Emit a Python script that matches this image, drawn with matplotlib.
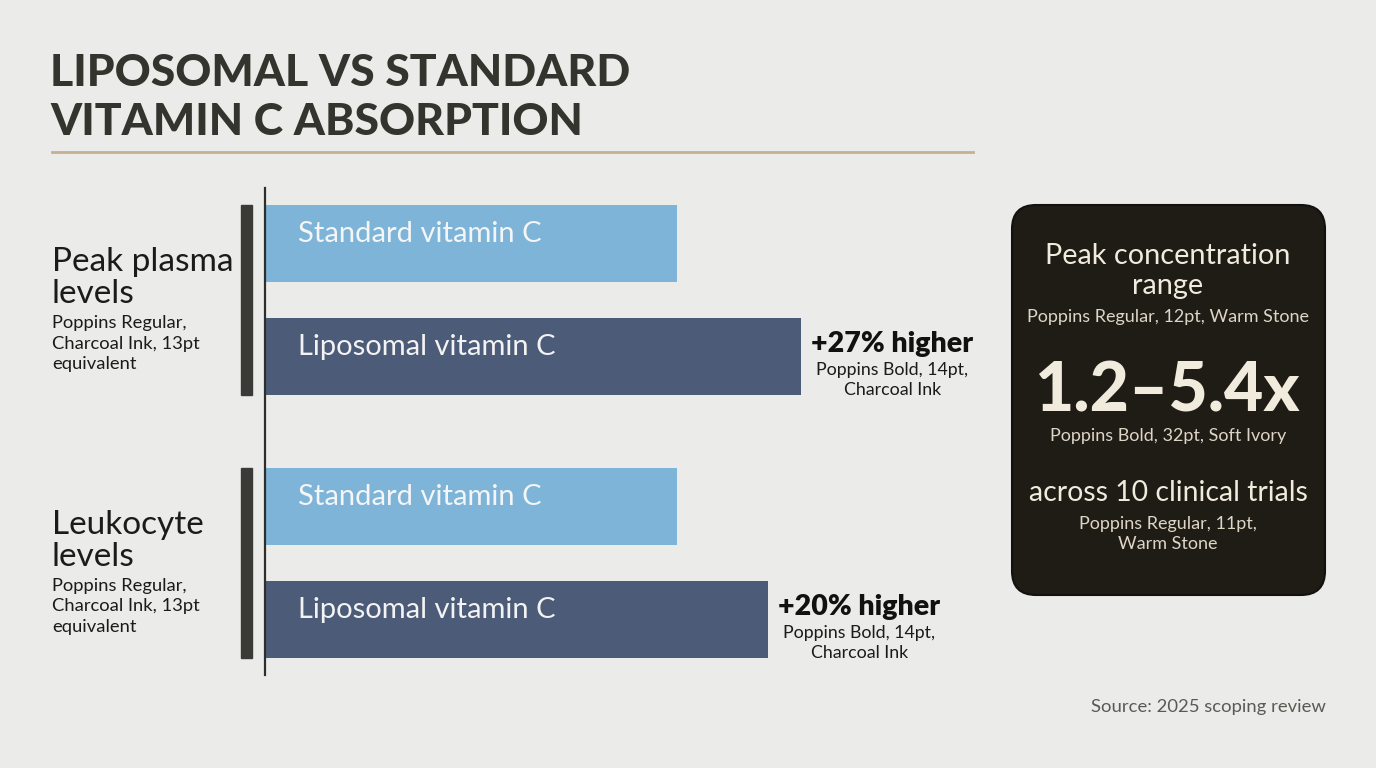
import matplotlib
matplotlib.use("Agg")
import matplotlib.pyplot as plt
from matplotlib.patches import FancyBboxPatch, Rectangle
from matplotlib.lines import Line2D
import matplotlib.transforms as mtransforms

# ---------------- data ----------------
metrics = ["Peak plasma\nlevels", "Leukocyte\nlevels"]
metric_notes = ["Poppins Regular,\nCharcoal Ink, 13pt\nequivalent",
                "Poppins Regular,\nCharcoal Ink, 13pt\nequivalent"]
series_names = ["Standard vitamin C", "Liposomal vitamin C"]
standard_vals = [1.00, 1.00]          # relative absorption (bar length)
liposomal_vals = [1.30, 1.22]
uplift_labels = ["+27% higher", "+20% higher"]
uplift_notes = ["Poppins Bold, 14pt,\nCharcoal Ink", "Poppins Bold, 14pt,\nCharcoal Ink"]
title_lines = ["LIPOSOMAL VS STANDARD", "VITAMIN C ABSORPTION"]
box_head = "Peak concentration\nrange"
box_head_note = "Poppins Regular, 12pt, Warm Stone"
box_value = "1.2\u20135.4x"
box_value_note = "Poppins Bold, 32pt, Soft Ivory"
box_foot = "across 10 clinical trials"
box_foot_note = "Poppins Regular, 11pt,\nWarm Stone"
source = "Source: 2025 scoping review"

# ---------------- style ----------------
BG = "#EBEBE9"
INK = "#1B1B1A"
TITLE = "#34342F"
STD_C = "#7EB4D8"
LIPO_C = "#4C5B78"
BOX_C = "#1F1C16"
IVORY = "#F1EBDD"
STONE = "#DDD5C6"
FONT = ["Lato", "DejaVu Sans"]

W, H = 1376, 768
fig = plt.figure(figsize=(W / 100, H / 100), dpi=100, facecolor=BG)

def fx(x):
    return x / W

def fy(y):
    return 1 - y / H

def ftext(x, y, s, **kw):
    kw.setdefault("family", FONT)
    kw.setdefault("va", "baseline")
    fig.text(fx(x), fy(y), s, **kw)

# Title
ftext(50, 86, title_lines[0], fontsize=32, weight="black", color=TITLE)
ftext(50, 135, title_lines[1], fontsize=32, weight="black", color=TITLE)
fig.add_artist(Line2D([fx(52), fx(973)], [fy(152), fy(152)],
                      transform=fig.transFigure, color="#C6AF92", lw=2))

# Bars axes
ax_left, ax_right, ax_top, ax_bot = 265, 975, 188, 675
ax = fig.add_axes([fx(ax_left), fy(ax_bot), fx(ax_right - ax_left),
                   (ax_bot - ax_top) / H])
ax.set_facecolor("none")
group_pos = list(range(len(metrics)))
offset = 0.215
bar_h = 0.293
std_y = [g - offset for g in group_pos]
lipo_y = [g + offset for g in group_pos]
ax.barh(std_y, standard_vals, height=bar_h, color=STD_C, left=0.003)
ax.barh(lipo_y, liposomal_vals, height=bar_h, color=LIPO_C, left=0.003)
ax.set_xlim(0, (ax_right - ax_left) / 411)
ax.set_ylim(1.426, -0.426)
for s in ["top", "right", "bottom"]:
    ax.spines[s].set_visible(False)
ax.spines["left"].set_color("#2E2E2C")
ax.spines["left"].set_linewidth(1.6)
ax.set_xticks([])
ax.set_yticks([])

# bar text labels
for i in group_pos:
    ax.text(0.08, std_y[i] - 0.006, series_names[0], va="baseline", ha="left",
            fontsize=21, color="#F3F5F6", family=FONT)
    ax.text(0.08, lipo_y[i] - 0.006, series_names[1], va="baseline", ha="left",
            fontsize=21, color="#F3F3F3", family=FONT)

# dark group markers on the left of the axis
blend = mtransforms.blended_transform_factory(fig.transFigure, ax.transData)
for i in group_pos:
    y0 = std_y[i] - bar_h / 2
    y1 = lipo_y[i] + bar_h / 2
    fig.add_artist(Rectangle((fx(241), y0), fx(11), y1 - y0, transform=blend,
                             color="#3A3A36", clip_on=False))

# category labels
for i, g in enumerate(group_pos):
    base = 271 + i * 263
    ftext(52, base, metrics[i].split("\n")[0], fontsize=24, color=INK)
    ftext(52, base + 32, metrics[i].split("\n")[1], fontsize=24, color=INK)
    for k, line in enumerate(metric_notes[i].split("\n")):
        ftext(52, base + 57 + 20.5 * k, line, fontsize=13.2, color=INK)

# uplift annotations
for i in group_pos:
    xd = ax.transData.transform((liposomal_vals[i], lipo_y[i]))
    cx_pix = xd[0] + 93
    ybase_pix = H - xd[1]  # top-origin pixel coordinate of bar center
    fig.text(cx_pix / W, fy(ybase_pix - 5), uplift_labels[i], ha="center",
             va="baseline", fontsize=20.5, weight="heavy", color="#111111",
             family=FONT)
    for k, line in enumerate(uplift_notes[i].split("\n")):
        fig.text(cx_pix / W, fy(ybase_pix + 18 + 20 * k), line, ha="center",
                 va="baseline", fontsize=12.8, color=INK, family=FONT)

# info box
box = FancyBboxPatch((10.12, (H - 595) / 100), 3.13, 3.90,
                     boxstyle="round,pad=0,rounding_size=0.24",
                     transform=fig.dpi_scale_trans, facecolor=BOX_C,
                     edgecolor="#121110", lw=1.5)
fig.add_artist(box)
cx = 1168
ftext(cx, 264, box_head.split("\n")[0], ha="center", fontsize=20.8, color=IVORY)
ftext(cx, 294, box_head.split("\n")[1], ha="center", fontsize=20.8, color=IVORY)
ftext(cx, 322, box_head_note, ha="center", fontsize=13, color=STONE)
ftext(cx, 412, box_value, ha="center", fontsize=49, weight="black", color=IVORY)
ftext(cx, 441, box_value_note, ha="center", fontsize=13, color=STONE)
ftext(cx, 501, box_foot, ha="center", fontsize=20.4, color=IVORY)
for k, line in enumerate(box_foot_note.split("\n")):
    ftext(cx, 529 + 20 * k, line, ha="center", fontsize=13, color=STONE)

# source
ftext(1326, 712, source, ha="right", fontsize=13.3, color="#5A5A55")

fig.savefig("out.png", dpi=100, facecolor=BG)
